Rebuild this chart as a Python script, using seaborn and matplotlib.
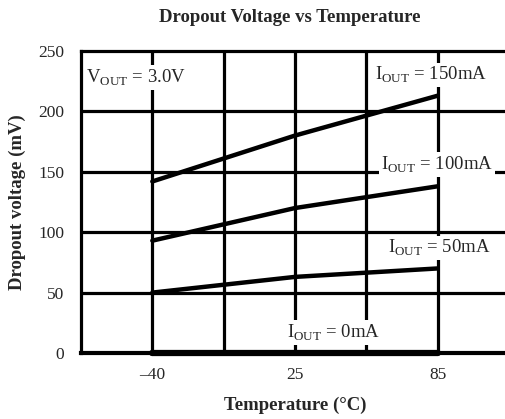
import numpy as np
import pandas as pd
import seaborn as sns
import matplotlib.pyplot as plt

# Dropout voltage (mV)
temps = [-40, 25, 85]
i150 = [142, 180, 213]
i100 = [93, 120, 138]
i50 = [50, 63, 70]
i0 = [0, 0, 0]

currents = ['150mA', '100mA', '50mA', '0mA']
x_ticks = [-40, 25, 85]
x_ticklabels = ['\u201340', '25', '85']
y_ticks = [0, 50, 100, 150, 200, 250]

# temperature axis is drawn with evenly spaced grid cells
def tpos(t):
    return np.interp(t, x_ticks, [1, 3, 5])

rows = []
for name, vals in zip(currents, [i150, i100, i50, i0]):
    for t, v in zip(temps, vals):
        rows.append({'pos': tpos(t), 'mV': v, 'current': name})
df = pd.DataFrame(rows)

sns.set_style('white')
plt.rcParams['font.family'] = ['Liberation Serif', 'DejaVu Serif']
plt.rcParams['mathtext.fontset'] = 'custom'
plt.rcParams['mathtext.rm'] = 'Liberation Serif'

fig = plt.figure(figsize=(5.05, 4.19), dpi=100)
ax = fig.add_axes([81 / 505, 66 / 419, 428 / 505, 302 / 419])

# grid
for x in [1, 2, 3, 4, 5]:
    ax.axvline(x, color='black', lw=2.3, zorder=1)
for y in y_ticks[1:-1]:
    ax.axhline(y, color='black', lw=2.3, zorder=1)

sns.lineplot(data=df, x='pos', y='mV', hue='current', palette=['black'] * 4,
             linewidth=3.2, legend=False, ax=ax, zorder=3, clip_on=False)
ax.lines[-1].set_linewidth(4.5)

ax.set_xlim(0, 6)
ax.set_ylim(0, 250)
ax.set_xticks(tpos(x_ticks))
ax.set_xticklabels(x_ticklabels, fontsize=12.5)
ax.set_yticks(y_ticks)
ax.set_yticklabels([str(v) for v in y_ticks], fontsize=12.5)
ax.tick_params(axis='x', length=0, pad=10)
ax.tick_params(axis='y', length=0, pad=12)

for side in ['left', 'top', 'bottom']:
    ax.spines[side].set_color('black')
ax.spines['left'].set_linewidth(2.3)
ax.spines['top'].set_linewidth(2.3)
ax.spines['bottom'].set_linewidth(3.0)
ax.spines['right'].set_visible(False)

box = dict(facecolor='white', edgecolor='none', pad=1.5)
labels = [
    (0.07, 228, r'V$_{\mathrm{OUT}}$ = 3.0V'),
    (4.12, 230, r'I$_{\mathrm{OUT}}$ = 150mA'),
    (4.20, 156, r'I$_{\mathrm{OUT}}$ = 100mA'),
    (4.31, 87, r'I$_{\mathrm{OUT}}$ = 50mA'),
    (2.89, 17, r'I$_{\mathrm{OUT}}$ = 0mA'),
]
for x, y, s in labels:
    ax.text(x, y, s, fontsize=13.5, ha='left', va='center', bbox=box, zorder=4)

fig.text(290 / 505, 1 - 17 / 419, 'Dropout Voltage vs Temperature',
         fontsize=13.5, fontweight='bold', ha='center', va='center')
fig.text(295 / 505, 1 - 405 / 419, 'Temperature (\u00b0C)',
         fontsize=13.5, fontweight='bold', ha='center', va='center')
fig.text(17 / 505, 1 - 202 / 419, 'Dropout voltage (mV)',
         fontsize=13.5, fontweight='bold', ha='center', va='center', rotation=90)
ax.set_xlabel('')
ax.set_ylabel('')

fig.savefig('out.png', dpi=100)
